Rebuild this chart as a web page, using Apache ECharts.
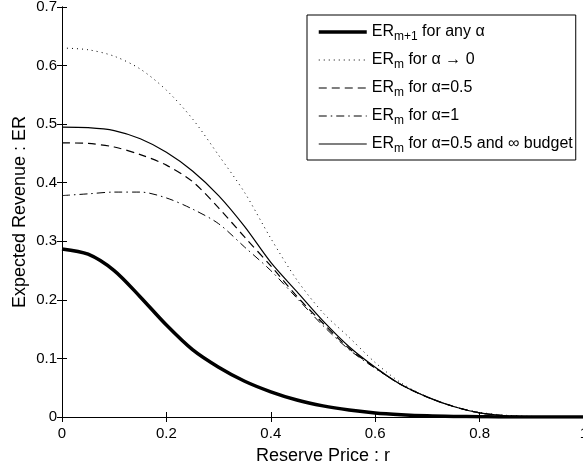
<!DOCTYPE html>
<html>
<head>
<meta charset="utf-8">
<script src="https://cdn.jsdelivr.net/npm/echarts@6/dist/echarts.min.js"></script>
<style>
html,body{margin:0;padding:0;background:#fff;}
#main{width:583px;height:466px;}
</style>
</head>
<body>
<div id="main"></div>
<script>
// reserve price r, step 0.05
var rValues = [0,0.05,0.1,0.15,0.2,0.25,0.3,0.35,0.4,0.45,0.5,0.55,0.6,0.65,0.7,0.75,0.8,0.85,0.9,0.95,1];
var erNext   = [0.287,0.278,0.250,0.205,0.157,0.115,0.085,0.061,0.043,0.029,0.019,0.012,0.007,0.004,0.002,0.001,0.0005,0,0,0,0];
var erAlpha0 = [0.630,0.627,0.616,0.594,0.558,0.509,0.447,0.383,0.305,0.234,0.178,0.136,0.093,0.058,0.034,0.018,0.008,0.003,0.001,0,0];
var erAlpha05 = [0.468,0.467,0.461,0.448,0.430,0.402,0.357,0.307,0.258,0.206,0.160,0.117,0.084,0.055,0.034,0.018,0.007,0.002,0.0005,0,0];
var erAlpha1 = [0.378,0.381,0.384,0.384,0.374,0.355,0.330,0.290,0.250,0.203,0.156,0.115,0.083,0.055,0.034,0.018,0.007,0.002,0.0005,0,0];
var erInfBudget = [0.495,0.494,0.489,0.475,0.452,0.420,0.378,0.325,0.264,0.214,0.164,0.120,0.085,0.055,0.034,0.018,0.007,0.002,0.0005,0,0];

var xTicks = [0,0.2,0.4,0.6,0.8,1];
var yTicks = [0,0.1,0.2,0.3,0.4,0.5,0.6,0.7];

var legendNames = [
    '{t|ER}{s|m+1}{t| for any α}',
    '{t|ER}{s|m}{t| for α → 0}',
    '{t|ER}{s|m}{t| for α=0.5}',
    '{t|ER}{s|m}{t| for α=1}',
    '{t|ER}{s|m}{t| for α=0.5 and ∞ budget}'
];

function pairs(ys){
    var out = [];
    for (var i=0;i<rValues.length;i++){
        out.push([rValues[i], ys[i]]);
    }
    return out;
}

var FONT = '"Liberation Sans", Arial, Helvetica, sans-serif';

var myChart = echarts.init(document.getElementById('main'), null, {renderer:'canvas'});

function mkLine(name, ys, width, type){
    return {
        name: name,
        type: 'line',
        xAxisIndex: 0,
        yAxisIndex: 0,
        data: pairs(ys),
        smooth: 0.3,
        showSymbol: false,
        symbol: 'none',
        silent: true,
        lineStyle: {color:'#000', width: width, type: type},
        itemStyle: {color:'#000'}
    };
}

var option = {
    animation: false,
    backgroundColor: '#fff',
    textStyle: {fontFamily: FONT, color:'#000'},
    grid: {left: 62, top: 7, width: 522, height: 410, containLabel: false, outerBoundsMode: 'none'},
    legend: {
        orient: 'vertical',
        left: 307,
        top: 15,
        padding: [6, 3, 5, 10],
        itemGap: 6,
        itemWidth: 48,
        itemHeight: 14,
        borderColor: '#000',
        borderWidth: 1,
        backgroundColor: '#fff',
        selectedMode: false,
        data: legendNames,
        formatter: function (n) { return n; },
        itemStyle: {opacity: 0},
        lineStyle: {width: 'inherit', type: 'inherit', color: 'inherit'},
        textStyle: {
            fontFamily: FONT,
            color: '#000',
            rich: {
                t: {fontSize: 16, fontFamily: FONT, color:'#000', lineHeight: 20},
                s: {fontSize: 12, fontFamily: FONT, color:'#000', padding: [10, 0, 0, 0], lineHeight: 12}
            }
        }
    },
    xAxis: [{
        type: 'value', position: 'bottom', min: 0, max: 1, interval: 0.2,
        name: 'Reserve Price : r', nameLocation: 'middle', nameGap: 30,
        nameMoveOverlap: false,
        nameTextStyle: {fontSize: 18, fontFamily: FONT, color:'#000'},
        axisLine: {lineStyle: {color:'#000', width: 1}},
        axisTick: {inside: true, length: 5, lineStyle:{color:'#000'}},
        axisLabel: {fontSize: 15, fontFamily: FONT, color:'#000', margin: 9,
            customValues: xTicks},
        splitLine: {show: false}
    },{
        type: 'value', position: 'top', min: 0, max: 1, interval: 0.2,
        axisLine: {lineStyle: {color:'#000', width: 1}},
        axisTick: {inside: true, length: 5, lineStyle:{color:'#000'}},
        axisLabel: {show: false},
        splitLine: {show: false}
    }],
    yAxis: [{
        type: 'value', position: 'left', min: 0, max: 0.7, interval: 0.1,
        name: 'Expected Revenue : ER', nameLocation: 'middle', nameGap: 33,
        nameMoveOverlap: false,
        nameTextStyle: {fontSize: 18, fontFamily: FONT, color:'#000'},
        axisLine: {show: true, lineStyle: {color:'#000', width: 1}},
        axisTick: {show: true, inside: true, length: 5, lineStyle:{color:'#000'}},
        axisLabel: {fontSize: 15, fontFamily: FONT, color:'#000', margin: 5,
            customValues: yTicks},
        splitLine: {show: false}
    },{
        type: 'value', position: 'right', min: 0, max: 0.7, interval: 0.1,
        axisLine: {show: true, lineStyle: {color:'#000', width: 1}},
        axisTick: {show: true, inside: true, length: 5, lineStyle:{color:'#000'}},
        axisLabel: {show: false},
        splitLine: {show: false}
    }],
    series: [
        mkLine(legendNames[0], erNext, 3.5, 'solid'),
        mkLine(legendNames[1], erAlpha0, 1, [1, 4]),
        mkLine(legendNames[2], erAlpha05, 1.2, [8, 5]),
        mkLine(legendNames[3], erAlpha1, 1, [8, 4, 1.5, 4]),
        mkLine(legendNames[4], erInfBudget, 1.2, 'solid')
    ]
};
myChart.setOption(option);
</script>
</body>
</html>
